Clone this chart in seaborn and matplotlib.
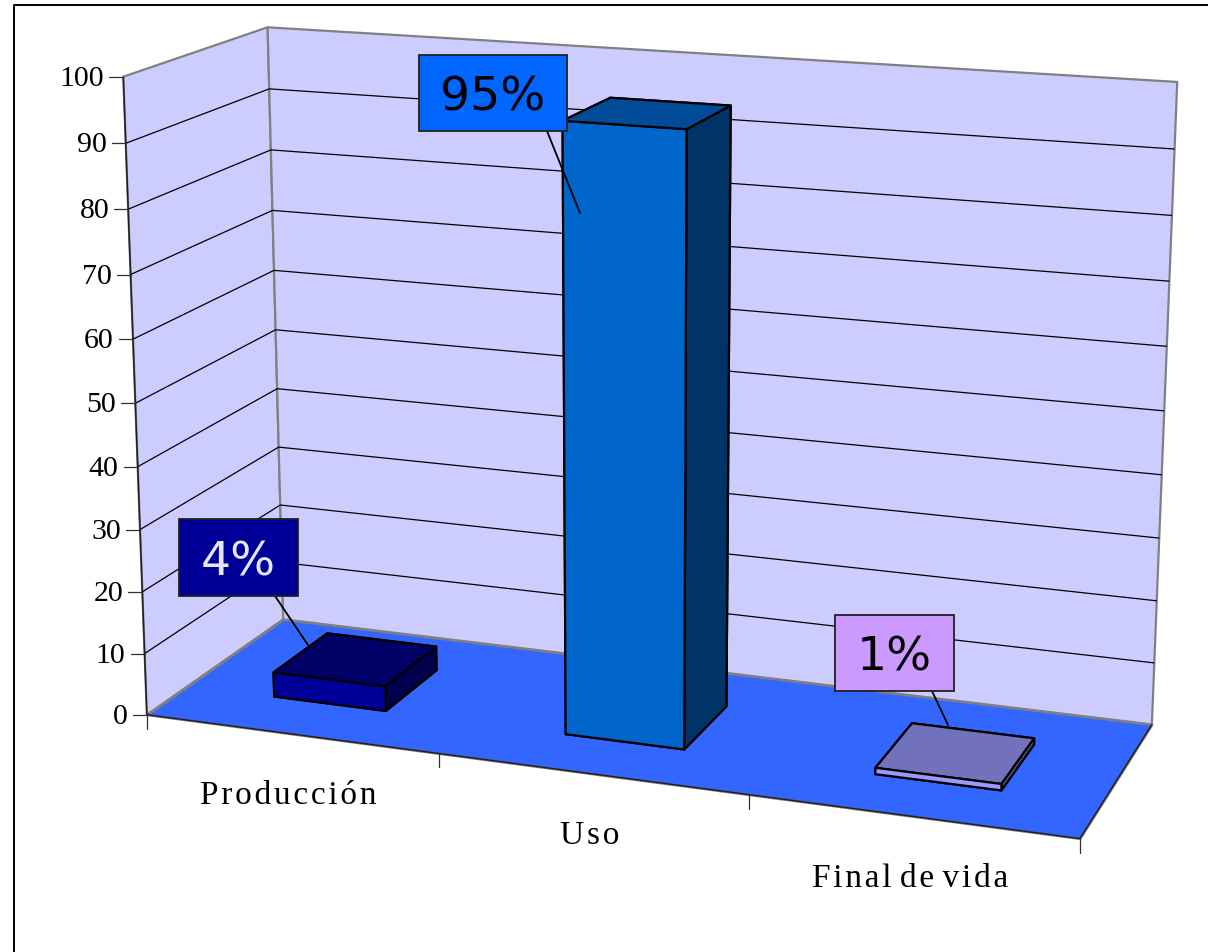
import numpy as np
import matplotlib
matplotlib.use('Agg')
import matplotlib.pyplot as plt
from matplotlib.patches import Rectangle
from mpl_toolkits.mplot3d import proj3d
from mpl_toolkits.mplot3d.art3d import Poly3DCollection, Line3DCollection
import seaborn as sns

categories = ['Producción', 'Uso', 'Final de vida']
values = [4, 95, 1]
z_ticks = [0, 10, 20, 30, 40, 50, 60, 70, 80, 90, 100]

# front, top, side colour of each bar
front_colors = ['#000099', '#0066CC', '#9999FF']
top_colors = ['#000066', '#004C99', '#7272BC']
side_colors = ['#00004D', '#003366', '#5C5C99']
box_colors = ['#000099', '#0066FF', '#CC99FF']
box_text_colors = ['#E6E6FF', '#000000', '#000000']

# callout boxes (left, top, right, bottom) and leader lines, in image pixels
boxes = [(179, 519, 298, 596), (419, 55, 567, 131), (835, 615, 954, 691)]
leaders = [((275, 596), (308, 645)), ((547, 131), (580, 213)), ((932, 691), (948, 725))]

W, H = 1208, 952
NCAT = len(categories)
ZMAX = z_ticks[-1]
BAR_W = 0.39
BAR_Y0, BAR_Y1 = 0.29, 0.70

# where the box corners land in the picture, used to calibrate the camera
world = [(0, 0, 0), (3, 0, 0), (0, 1, 0), (3, 1, 0), (0, 0, 100), (0, 1, 100), (3, 1, 100)]
image = [(148, 714), (1080, 839), (282, 620), (1152, 724), (122, 77), (269, 27), (1177, 82)]


def camera_matrix():
    rows = []
    for (x, y, z), (u, v) in zip(world, image):
        z = z / ZMAX
        rows.append([x, y, z, 1, 0, 0, 0, 0, -u * x, -u * y, -u * z, -u])
        rows.append([0, 0, 0, 0, x, y, z, 1, -v * x, -v * y, -v * z, -v])
    p = np.linalg.svd(np.array(rows, dtype=float))[2][-1].reshape(3, 4)
    p[:, 2] /= ZMAX
    if p[2] @ np.array([0, 0, 0, 1]) < 0:
        p = -p
    # depth row: -1/w grows with distance from the camera
    return np.vstack([p[0], p[1], [0, 0, 0, -1], p[2]])


def to_px(x, y, z):
    px, py, _ = proj3d.proj_transform(x, y, z, M)
    return float(px), float(py)


def spaced(name):
    return ' '.join('\u200a'.join(word) for word in name.split(' '))


sns.set_theme(style='white', font='Liberation Serif')
fig = plt.figure(figsize=(W / 100, H / 100), dpi=100, facecolor='white')

M = camera_matrix()
ax = fig.add_axes([0, (H - W) / 2 / H, 1, W / H], projection='3d', computed_zorder=False)
ax.set_axis_off()
ax.get_proj = lambda: M
ax.viewLim.intervalx = (0, W)
ax.viewLim.intervaly = (H + (W - H) / 2, -(W - H) / 2)

left_wall = [(0, 0, 0), (0, 1, 0), (0, 1, ZMAX), (0, 0, ZMAX)]
back_wall = [(0, 1, 0), (NCAT, 1, 0), (NCAT, 1, ZMAX), (0, 1, ZMAX)]
floor = [(0, 0, 0), (NCAT, 0, 0), (NCAT, 1, 0), (0, 1, 0)]
ax.add_collection3d(Poly3DCollection([left_wall, back_wall], facecolors='#CCCCFF',
                                     edgecolors='#808080', linewidths=1.6, zorder=1))
ax.add_collection3d(Poly3DCollection([floor], facecolors='#3366FF',
                                     edgecolors='#808080', linewidths=1.6, zorder=2))

grid = [[(0, 0, t), (0, 1, t), (NCAT, 1, t)] for t in z_ticks[1:-1]]
ax.add_collection3d(Line3DCollection(grid, colors='black', linewidths=0.9, zorder=3))

# dark outer edges
edges = [[(0, 0, 0), (0, 0, ZMAX)], [(0, 0, 0), (NCAT, 0, 0)], [(NCAT, 0, 0), (NCAT, 1, 0)]]
ax.add_collection3d(Line3DCollection(edges, colors='#202020', linewidths=1.1, zorder=4))

for i, v in enumerate(values):
    colors = [top_colors[i], top_colors[i], front_colors[i], front_colors[i],
              side_colors[i], side_colors[i]]
    bar = ax.bar3d(i + 0.5 - BAR_W / 2, BAR_Y0, 0, BAR_W, BAR_Y1 - BAR_Y0, v, color=colors,
                   shade=False, edgecolor='black', linewidth=1.6)
    bar.set_zorder(5 + i)

# flat layer in image pixels for frame, ticks, labels and callouts
over = fig.add_axes([0, 0, 1, 1], facecolor='none')
over.set_xlim(0, W)
over.set_ylim(H, 0)
over.axis('off')
over.plot([14, 14, W], [H, 5, 5], color='black', lw=1.4)

for t in z_ticks:
    px, py = to_px(0, 0, t)
    over.plot([px - 14, px], [py, py], color='#303030', lw=0.9)
    over.text(px - 19, py + 2, str(t), ha='right', va='center', fontsize=21.5, color='black')

for i in range(NCAT + 1):
    px, py = to_px(i, 0, 0)
    over.plot([px, px], [py, py + 14], color='#303030', lw=0.9)

for i, name in enumerate(categories):
    px, py = to_px(i + 0.5, 0, 0)
    over.text(px - 2, py + 62, spaced(name), ha='center', va='center', fontsize=24, color='black')

for i, v in enumerate(values):
    x0, y0, x1, y1 = boxes[i]
    over.plot(*zip(*leaders[i]), color='black', lw=1.3, zorder=6)
    over.add_patch(Rectangle((x0, y0), x1 - x0, y1 - y0, facecolor=box_colors[i],
                             edgecolor='#202020', lw=1.3, zorder=7))
    over.text((x0 + x1) / 2, (y0 + y1) / 2 + 5, f'{v}%', ha='center', va='center', fontsize=34,
              family='DejaVu Sans', color=box_text_colors[i], zorder=8)

fig.savefig('out.png', dpi=100)
